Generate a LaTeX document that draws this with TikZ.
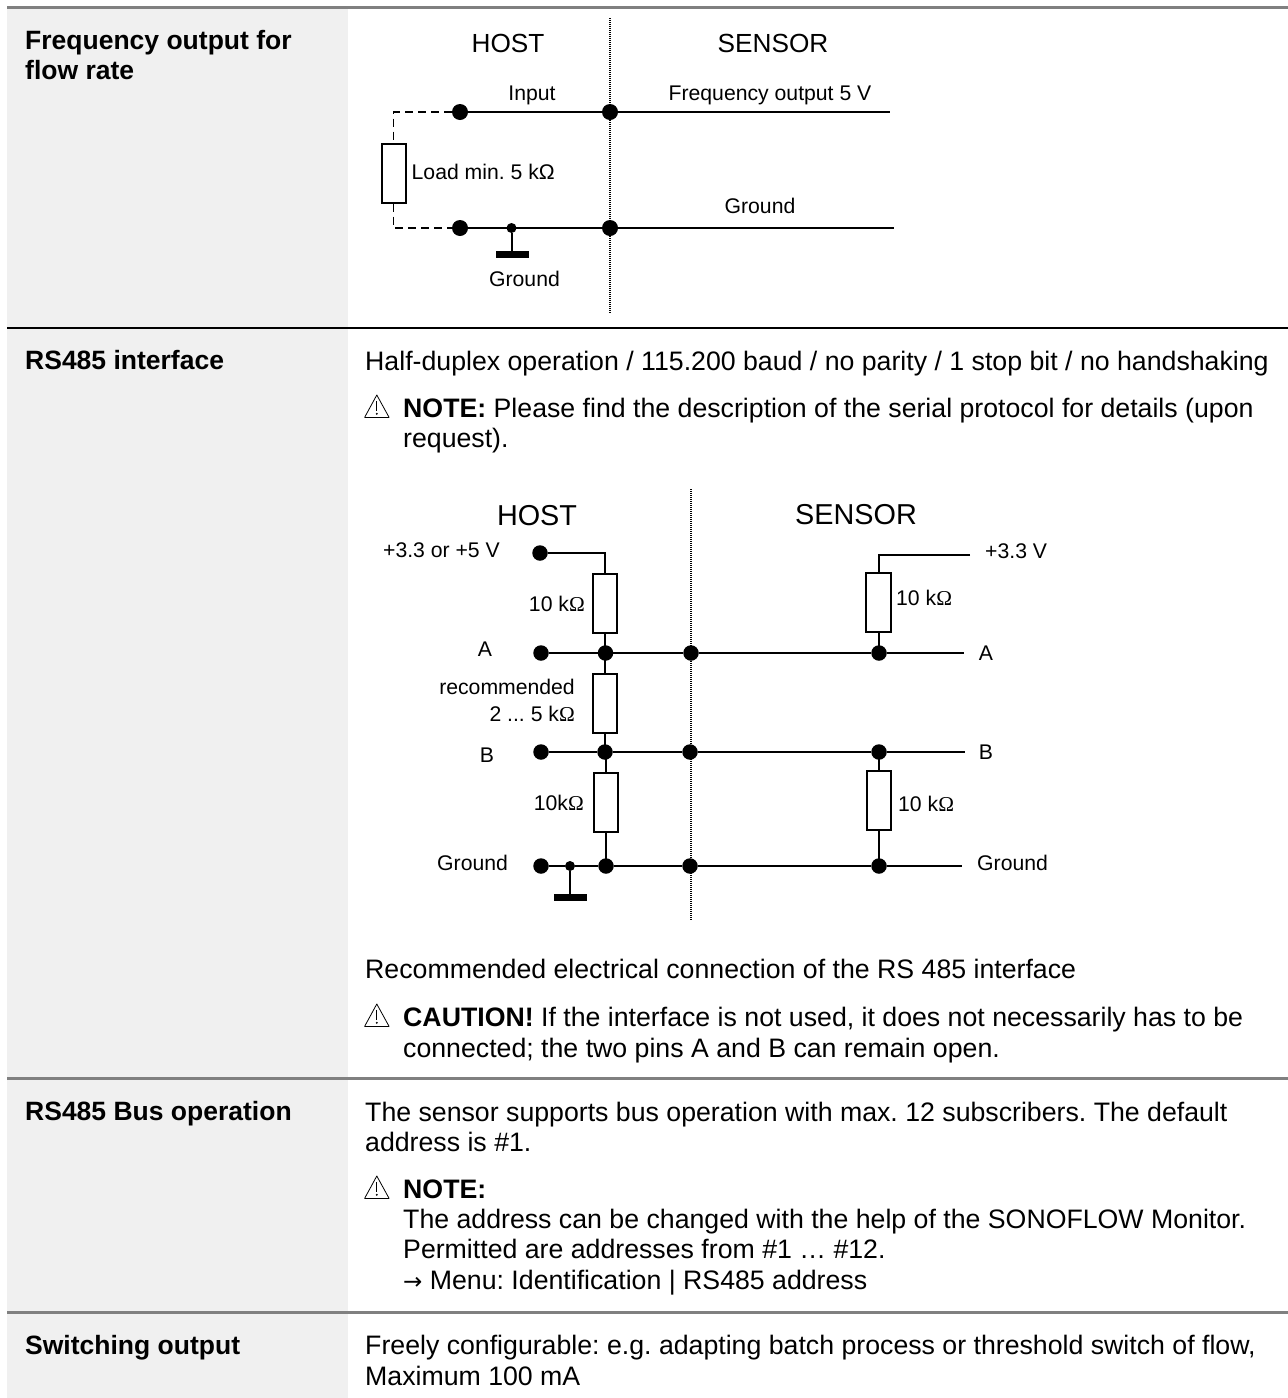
\documentclass[tikz,border=0pt]{standalone}
\usepackage{fontspec}
\setmainfont{Liberation Sans}
\newfontfamily\symfont{Liberation Serif}
\newfontfamily\arrfont{DejaVu Sans}
\definecolor{band}{HTML}{F0F0F0}
\definecolor{rulegray}{HTML}{808080}
\tikzset{x=1pt,y=-1pt,
 txt/.style={inner sep=0pt,anchor=base west,font=\fontsize{26.7}{30}\selectfont},
 ttl/.style={inner sep=0pt,anchor=base west,font=\bfseries\fontsize{26.5}{30}\selectfont},
 lbl/.style={inner sep=0pt,anchor=base,font=\fontsize{21.2}{25}\selectfont},
 lbll/.style={lbl,anchor=base west},
 lblr/.style={lbl,anchor=base east},
 hda/.style={inner sep=0pt,anchor=base,font=\fontsize{26.2}{30}\selectfont},
 hdb/.style={inner sep=0pt,anchor=base,font=\fontsize{28.8}{32}\selectfont},
 dotb/.style={circle,fill=black,inner sep=0pt,minimum size=15.5pt},
 dots/.style={circle,fill=black,inner sep=0pt,minimum size=10pt},
 res/.style={draw=black,line width=2pt,fill=white,inner sep=0pt,minimum width=24.5pt,minimum height=59pt},
 wire/.style={line width=2pt,black},
 sep/.style={line width=1.2pt,black,dash pattern=on 1pt off 1pt},
 gnd/.style={fill=black,inner sep=0pt,minimum width=33pt,minimum height=7pt},
 rowline/.style={line width=2.1pt},
 loadwire/.style={line width=1.8pt,dash pattern=on 8pt off 5pt},
}
\newcommand{\warn}{\tikz[x=1pt,y=1pt,baseline=0pt,line width=.8pt,line join=round]{\draw (0,-.4) -- (24.5,-.4) -- (12.2,22) -- cycle;\draw[line width=1.3pt] (12.2,16) -- (12.2,6.5);\fill (12.2,3.2) circle (1.1pt);}}
\newcommand{\ohm}{{\symfont\char"03A9}}
\begin{document}
\frenchspacing
\begin{tikzpicture}
\useasboundingbox (0,0) rectangle (1288,1398);
\fill[white] (0,0) rectangle (1288,1398);
\fill[band] (7,8) rectangle (348,1398);
\draw[rowline,rulegray] (7,7.5) -- (1288,7.5);
\draw[rowline,black,line width=2.4pt] (7,328) -- (1288,328);
\draw[rowline,rulegray] (7,1078.5) -- (1288,1078.5);
\draw[rowline,rulegray] (7,1312.5) -- (1288,1312.5);
% left column
\node[ttl] (t1a) at (25,49) {Frequency output for};
\node[ttl] (t1b) at (25,79) {flow rate};
\node[ttl] (t2) at (25,369) {RS485 interface};
\node[ttl] (t3) at (25,1120) {RS485 Bus operation};
\node[ttl] (t4) at (25,1354) {Switching output};
% right text
\node[txt] (r1) at (365,370) {Half-duplex operation / 115.200 baud / no parity / 1 stop bit / no handshaking};
\node[txt] (w1) at (364,417) {\warn};
\node[txt] (r2) at (403,417) {\textbf{NOTE:} Please find the description of the serial protocol for details (upon};
\node[txt] (r3) at (403,447) {request).};
\node[txt] (r4) at (365,978) {Recommended electrical connection of the RS 485 interface};
\node[txt] (w2) at (364,1026) {\warn};
\node[txt] (r5) at (403,1026) {\textbf{CAUTION!} If the interface is not used, it does not necessarily has to be};
\node[txt] (r6) at (403,1057) {connected; the two pins A and B can remain open.};
\node[txt] (r7) at (365,1121) {The sensor supports bus operation with max. 12 subscribers. The default};
\node[txt] (r8) at (365,1151) {address is \#1.};
\node[txt] (w3) at (364,1198) {\warn};
\node[txt] (r9) at (403,1198) {\textbf{NOTE:}};
\node[txt] (r10) at (403,1228) {The address can be changed with the help of the SONOFLOW Monitor.};
\node[txt] (r11) at (403,1258) {Permitted are addresses from \#1 … \#12.};
\node[txt] (r12) at (403,1289) {{\arrfont\fontsize{23}{25}\selectfont →} Menu: Identification | RS485 address};
\node[txt] (r13) at (365,1354) {Freely configurable: e.g. adapting batch process or threshold switch of flow,};
\node[txt] (r14) at (365,1385) {Maximum 100 mA};
% first circuit
\coordinate (s1t) at (610,18);
\coordinate (s1b) at (610,314);
\draw[sep] (s1t) -- (s1b);
\node[hda] (h1) at (508,52) {HOST};
\node[hda] (s1) at (773,52) {SENSOR};
\node[lbl] (inp) at (532,100) {Input};
\node[lbl] (fo) at (770,100) {Frequency output 5 V};
\node[lbll] (ld) at (411.5,179) {Load min. 5 kΩ};
\node[lbl] (g1) at (760,213) {Ground};
\node[lbl] (g2) at (524.5,286) {Ground};
\node[dotb,minimum size=16pt] (a1) at (460,112) {};
\node[dotb,minimum size=16pt] (a2) at (610,112) {};
\node[dotb,minimum size=16pt] (b1) at (460,228) {};
\node[dotb,minimum size=16pt] (b2) at (610,228) {};
\node[dots] (b3) at (511.5,228) {};
\coordinate (ae) at (890,112);
\coordinate (be) at (894,228);
\node[gnd] (g) at (512.5,254.5) {};
\node[res,minimum width=24pt,minimum height=59pt] (rl) at (393.5,173) {};
\coordinate (cc1) at (393.5,112);
\coordinate (cc2) at (393.5,228);
\draw[wire,line width=2.6pt] (a1) -- (a2);
\draw[wire] (a2) -- (ae);
\draw[wire,line width=2.6pt] (b1) -- (b2);
\draw[wire] (b2) -- (be);
\draw[wire] (b3) -- (b3 |- g.north);
\draw[loadwire] (a1) -- (cc1) -- (rl.north);
\draw[loadwire] (rl.south) -- (cc2) -- (b1);
% second circuit
\coordinate (s2t) at (691,489);
\coordinate (s2b) at (691,921);
\draw[sep] (s2t) -- (s2b);
\node[hdb] (h2) at (537,525) {HOST};
\node[hdb] (s2) at (856,524) {SENSOR};
\node[lblr] (vh) at (500,557) {+3.3 or +5 V};
\node[lbll] (vs) at (985,558) {+3.3 V};
\node[lblr] (k1) at (585,611) {10 k\ohm};
\node[lbl] (la) at (485,656) {A};
\node[lbl] (ra) at (986,660) {A};
\node[lblr] (rec) at (575,694) {recommended};
\node[lblr] (rec2) at (575,721) {2 ... 5 k\ohm};
\node[lbl] (lb) at (487,762) {B};
\node[lbl] (rb) at (986,759) {B};
\node[lblr] (k3) at (584,810) {10k\ohm};
\node[lbll] (lg) at (437,870) {Ground};
\node[lbll] (rg) at (977,870) {Ground};
\node[lbll] (k4) at (896,605) {10 k\ohm};
\node[lbll] (k5) at (898,811) {10 k\ohm};
\node[dotb] (d0) at (540,553) {};
\node[dotb] (da1) at (541,653) {};
\node[dotb] (da2) at (605.5,653) {};
\node[dotb] (da3) at (691,653) {};
\node[dotb] (da4) at (879,653) {};
\node[dotb] (db1) at (541,752) {};
\node[dotb] (db2) at (605,752) {};
\node[dotb] (db3) at (690,752) {};
\node[dotb] (db4) at (879,752) {};
\node[dotb] (dg1) at (541,866) {};
\node[dots] (dg2) at (570,866) {};
\node[dotb] (dg3) at (606,866) {};
\node[dotb] (dg4) at (690,866) {};
\node[dotb] (dg5) at (879,866) {};
\coordinate (ea) at (964,653);
\coordinate (eb) at (965,752);
\coordinate (eg) at (962,866);
\coordinate (ev) at (970,555);
\node[gnd] (gg) at (570.5,897.5) {};
\node[res] (r1h) at (605,603.5) {};
\node[res] (r2h) at (605,703.5) {};
\node[res] (r3h) at (606,802) {};
\node[res] (r1s) at (878.5,602) {};
\node[res] (r3s) at (879,800.5) {};
\coordinate (c0) at (r1h.north |- d0);
\coordinate (cv) at (r1s.north |- ev);
\draw[wire] (d0) -- (c0) -- (r1h.north);
\draw[wire] (ev) -- (cv) -- (r1s.north);
\draw[wire] (r1h.south) -- (r1h.south |- da2);
\draw[wire] (r2h.north) -- (r2h.north |- da2);
\draw[wire] (r2h.south) -- (r2h.south |- db2);
\draw[wire] (r3h.north) -- (r3h.north |- db2);
\draw[wire] (r3h.south) -- (r3h.south |- dg3);
\draw[wire] (r1s.south) -- (r1s.south |- da4);
\draw[wire] (r3s.north) -- (r3s.north |- db4);
\draw[wire] (r3s.south) -- (r3s.south |- dg5);
\draw[wire] (da1) -- (da2) -- (da3) -- (da4) -- (ea);
\draw[wire] (db1) -- (db2) -- (db3) -- (db4) -- (eb);
\draw[wire] (dg1) -- (dg2) -- (dg3) -- (dg4) -- (dg5) -- (eg);
\draw[wire] (dg2) -- (dg2 |- gg.north);
\end{tikzpicture}
\end{document}
